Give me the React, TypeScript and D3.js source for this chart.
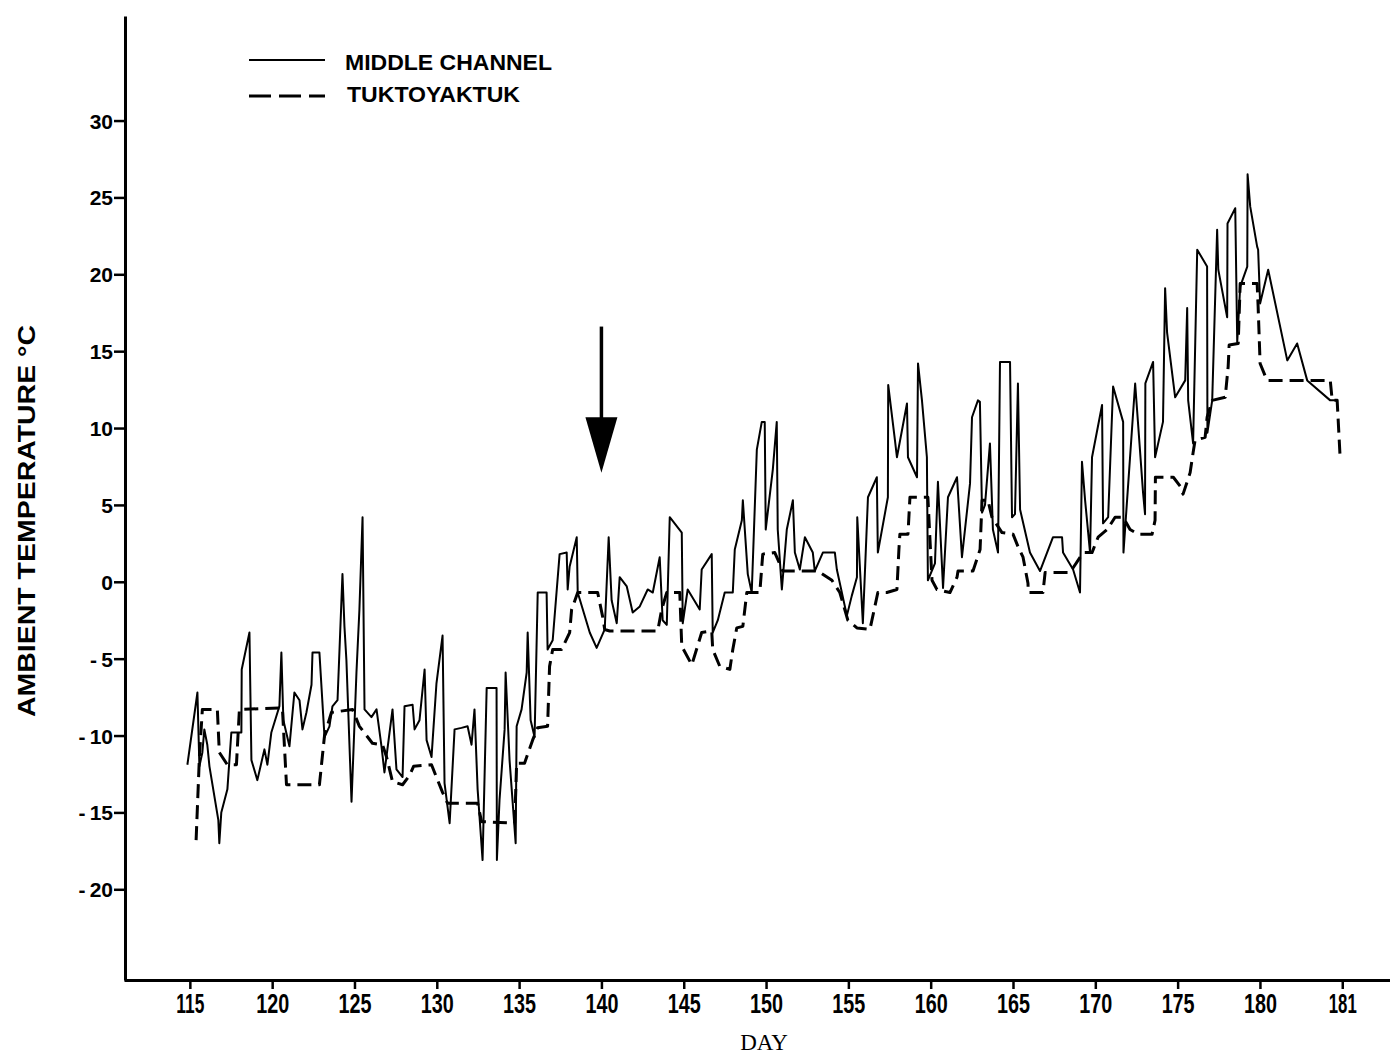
import { useEffect, useRef } from "react";
import * as d3 from "d3";

// [day, °C]
const middleChannel: [number, number][] = [
  [114.85, -11.9], [115.46, -7.2], [115.58, -12.0], [115.76, -11.1], [115.88, -9.6], [116.06, -10.6],
  [116.19, -12.0], [116.73, -15.5], [116.79, -17.0], [116.91, -15.0], [117.28, -13.5], [117.52, -9.8],
  [118.13, -9.8], [118.15, -5.7], [118.62, -3.3], [118.74, -11.6], [119.1, -12.9], [119.53, -10.9],
  [119.71, -11.9], [119.95, -9.8], [120.44, -8.1], [120.56, -4.6], [120.68, -9.0], [121.05, -10.7],
  [121.35, -7.2], [121.66, -7.7], [121.84, -9.6], [122.08, -8.5], [122.39, -6.7], [122.45, -4.6],
  [122.87, -4.6], [123.18, -10.1], [123.48, -9.4], [123.66, -8.1], [123.97, -7.7], [124.27, 0.5],
  [124.39, -2.9], [124.51, -5.1], [124.82, -14.3], [125.12, -5.9], [125.3, -1.8], [125.49, 4.2],
  [125.61, -8.3], [126.03, -8.8], [126.34, -8.3], [126.64, -10.7], [126.82, -12.4], [127.31, -8.3],
  [127.55, -12.2], [127.92, -12.7], [128.04, -8.1], [128.53, -8.0], [128.65, -9.6], [128.95, -9.0],
  [129.26, -5.7], [129.38, -10.3], [129.68, -11.4], [129.98, -6.6], [130.35, -3.5], [130.47, -13.1],
  [130.78, -15.7], [131.08, -9.6], [131.5, -9.5], [131.87, -9.4], [132.11, -10.6], [132.29, -8.3],
  [132.48, -13.5], [132.78, -18.1], [133.03, -6.9], [133.63, -6.9], [133.65, -18.1], [133.81, -14.2],
  [134.12, -9.6], [134.18, -5.9], [134.42, -11.6], [134.79, -17.0], [134.85, -9.4], [135.15, -8.3],
  [135.46, -5.9], [135.52, -3.3], [135.7, -9.0], [135.94, -10.1], [136.13, -0.7], [136.67, -0.7],
  [136.73, -4.4], [137.04, -3.8], [137.46, 1.8], [137.89, 1.9], [137.95, -0.5], [138.07, 1.0],
  [138.5, 2.9], [138.56, -0.7], [139.29, -3.3], [139.71, -4.3], [140.2, -3.1], [140.44, 2.9],
  [140.62, -1.2], [140.93, -2.7], [141.11, 0.3], [141.54, -0.3], [141.9, -2.0], [142.33, -1.6],
  [142.81, -0.5], [143.12, -0.7], [143.54, 1.6], [143.72, -2.5], [143.97, -2.8], [144.15, 4.2],
  [144.88, 3.2], [144.94, -2.7], [145.24, -0.5], [145.97, -1.8], [146.09, 0.8], [146.7, 1.8],
  [146.76, -3.3], [147.07, -2.5], [147.49, -0.7], [147.98, -0.7], [148.1, 2.1], [148.53, 4.0],
  [148.59, 5.3], [148.89, 0.5], [149.13, -0.7], [149.44, 8.6], [149.74, 10.4], [149.92, 10.4],
  [149.98, 3.4], [150.41, 7.3], [150.65, 10.4], [150.71, 3.4], [150.96, -0.5], [151.26, 3.4],
  [151.63, 5.3], [151.75, 1.9], [152.05, 0.8], [152.36, 2.9], [152.84, 1.9], [152.96, 0.7],
  [153.45, 1.9], [154.18, 1.9], [154.3, 0.8], [154.91, -2.2], [155.21, -0.9], [155.52, 0.3],
  [155.54, 4.2], [155.88, -2.7], [156.19, 5.5], [156.73, 6.8], [156.79, 1.9], [157.4, 5.5],
  [157.42, 12.8], [157.83, 9.2], [157.95, 8.1], [158.56, 11.6], [158.62, 8.1], [159.17, 6.8],
  [159.23, 14.2], [159.47, 11.8], [159.77, 8.1], [159.83, 0.1], [160.26, 1.2], [160.44, 6.5],
  [160.75, -0.4], [161.05, 5.5], [161.6, 6.8], [161.9, 1.6], [162.39, 6.4], [162.51, 10.7],
  [162.87, 11.8], [162.99, 11.7], [163.12, 4.5], [163.3, 5.0], [163.6, 9.0], [163.78, 3.4],
  [164.09, 1.9], [164.21, 14.3], [164.82, 14.3], [164.94, 4.2], [165.12, 4.4], [165.3, 12.9],
  [165.43, 4.7], [166.03, 1.9], [166.64, 0.7], [167.43, 2.9], [167.98, 2.9], [168.04, 1.9],
  [168.65, 0.8], [169.07, -0.7], [169.19, 7.8], [169.38, 5.3], [169.68, 1.9], [169.8, 8.1],
  [170.41, 11.5], [170.47, 3.8], [170.78, 4.2], [171.08, 12.7], [171.69, 10.4], [171.71, 1.9],
  [172.42, 12.9], [172.9, 5.8], [173.02, 4.4], [173.04, 12.9], [173.51, 14.3], [173.63, 8.1],
  [174.11, 10.4], [174.24, 19.1], [174.36, 16.2], [174.85, 12.0], [175.46, 13.1], [175.58, 17.8],
  [175.64, 11.8], [175.94, 9.0], [176.19, 21.6], [176.79, 20.5], [176.81, 9.7], [177.1, 11.8],
  [177.4, 22.9], [177.47, 20.3], [178.01, 17.2], [178.03, 23.3], [178.5, 24.3], [178.62, 15.6],
  [178.8, 19.2], [179.23, 20.5], [179.25, 26.5], [179.41, 24.4], [179.83, 21.8], [179.89, 21.6],
  [180.01, 18.1], [180.5, 20.3], [181.66, 14.4], [182.26, 15.5], [182.87, 13.1], [184.27, 11.8],
  [184.69, 11.8],
];

const tuktoyaktuk: [number, number][] = [
  [115.38, -16.8], [115.58, -11.4], [115.76, -8.3], [116.67, -8.3], [116.79, -11.1], [117.28, -11.9],
  [117.83, -11.9], [118.01, -8.3], [120.62, -8.2], [120.87, -13.2], [122.87, -13.2], [123.18, -10.0],
  [123.6, -8.5], [124.88, -8.3], [125.3, -9.4], [126.09, -10.5], [126.7, -10.6], [126.95, -11.4],
  [127.31, -13.0], [127.92, -13.2], [128.34, -12.6], [128.59, -12.0], [129.68, -11.9], [130.35, -13.7],
  [130.65, -14.4], [132.48, -14.4], [132.72, -15.6], [134.73, -15.7], [134.85, -11.8], [135.33, -11.8],
  [135.82, -10.3], [136.12, -9.5], [136.73, -9.4], [136.85, -5.5], [137.04, -4.4], [137.58, -4.4],
  [138.07, -3.3], [138.19, -1.8], [138.56, -0.7], [139.77, -0.7], [140.08, -2.3], [140.2, -3.1],
  [140.5, -3.2], [143.42, -3.2], [143.66, -1.8], [143.97, -0.7], [144.76, -0.7], [144.88, -4.2],
  [145.49, -5.4], [146.09, -3.3], [146.7, -3.2], [146.76, -4.4], [147.19, -5.5], [147.8, -5.7],
  [147.98, -4.4], [148.22, -3.0], [148.59, -2.9], [148.83, -0.7], [149.62, -0.7], [149.8, 1.8],
  [150.53, 1.9], [151.02, 0.7], [153.15, 0.7], [154.0, 0.1], [154.48, -0.7], [154.97, -2.5],
  [155.52, -3.0], [156.31, -3.1], [156.79, -0.7], [157.34, -0.7], [157.95, -0.5], [158.07, 2.1],
  [158.13, 3.1], [158.62, 3.1], [158.74, 5.5], [159.83, 5.5], [159.95, 2.9], [160.08, 0.1],
  [160.38, -0.5], [161.17, -0.7], [161.6, 0.3], [161.66, 0.7], [162.57, 0.7], [163.0, 2.1],
  [163.12, 5.3], [163.48, 5.3], [163.72, 4.2], [164.33, 3.2], [165.0, 3.1], [165.3, 2.3],
  [165.61, 1.6], [165.91, -0.1], [165.93, -0.7], [166.82, -0.7], [166.95, 0.6], [168.46, 0.6],
  [169.26, 1.9], [169.8, 1.9], [170.17, 2.9], [170.72, 3.4], [171.2, 4.2], [171.69, 4.2],
  [172.11, 3.4], [172.6, 3.1], [173.45, 3.1], [173.63, 4.0], [173.65, 6.8], [174.74, 6.8],
  [175.17, 6.2], [175.33, 5.7], [175.76, 7.1], [175.94, 8.4], [176.06, 9.2], [176.67, 9.4],
  [176.79, 10.7], [177.1, 11.8], [177.89, 12.0], [178.07, 14.0], [178.13, 15.4], [178.68, 15.5],
  [178.8, 19.4], [179.83, 19.4], [179.89, 17.9], [180.01, 14.2], [180.43, 13.1], [184.27, 13.1],
  [184.39, 11.8], [184.69, 11.8], [184.88, 7.9],
];

const seriesNames = ["MIDDLE CHANNEL", "TUKTOYAKTUK"];
const dayTicks = [115, 120, 125, 130, 135, 140, 145, 150, 155, 160, 165, 170, 175, 180, 185];
const dayTickLabels = ["115", "120", "125", "130", "135", "140", "145", "150", "155", "160", "165", "170", "175", "180", "181"];
const tempTicks = [-20, -15, -10, -5, 0, 5, 10, 15, 20, 25, 30];
// arrow at day 140: shaft top, head base, tip (°C)
const arrowDay = 140;
const arrowTemps = [16.6, 10.7, 7.1];

const W = 1390;
const H = 1056;

export default function App() {
  const ref = useRef<SVGSVGElement>(null);

  useEffect(() => {
    const svg = d3.select(ref.current);
    svg.selectAll("*").remove();

    const x = d3.scaleLinear().domain([111.0, 187.9]).range([124, 1390]);
    const y = d3.scaleLinear().domain([-25.9, 36.8]).range([980, 16]);
    const sans = "'Liberation Sans', Arial, sans-serif";

    // y axis
    const yAxis = svg
      .append("g")
      .attr("transform", "translate(125,0)")
      .call(
        d3
          .axisLeft(y)
          .tickValues(tempTicks)
          .tickSize(11)
          .tickSizeOuter(0)
          .tickPadding(1)
          .tickFormat((d) => {
            const v = +d;
            return v < 0 ? "-\u2009" + Math.abs(v) : String(v);
          })
      );
    yAxis.select(".domain").attr("stroke", "#000").attr("stroke-width", 3);
    yAxis.selectAll(".tick line").attr("stroke", "#000").attr("stroke-width", 2.5);
    yAxis
      .selectAll(".tick text")
      .attr("fill", "#000")
      .attr("dy", "0.36em")
      .style("font-family", sans)
      .style("font-weight", "bold")
      .style("font-size", "21px");

    // x axis
    const xAxis = svg
      .append("g")
      .attr("transform", "translate(0,980)")
      .call(
        d3
          .axisBottom(x)
          .tickValues(dayTicks)
          .tickSize(9)
          .tickSizeOuter(0)
          .tickFormat((d, i) => dayTickLabels[i])
      );
    xAxis.select(".domain").attr("stroke", "#000").attr("stroke-width", 3);
    xAxis.selectAll(".tick line").attr("stroke", "#000").attr("stroke-width", 2.5);
    xAxis
      .selectAll<SVGTextElement, number>(".tick text")
      .attr("fill", "#000")
      .attr("y", 33)
      .attr("dy", 0)
      .attr("textLength", (d, i) => {
        const s = dayTickLabels[i];
        let w = 0;
        for (const c of s) w += c === "1" ? 6 : 11;
        return w + 2.5 * (s.length - 1);
      })
      .attr("lengthAdjust", "spacingAndGlyphs")
      .style("font-family", sans)
      .style("font-weight", "bold")
      .style("font-size", "27px");

    // axis titles
    svg
      .append("text")
      .attr("x", 764)
      .attr("y", 1050)
      .attr("text-anchor", "middle")
      .style("font-family", "'Liberation Serif', 'Times New Roman', serif")
      .style("font-size", "23px")
      .text("DAY");

    svg
      .append("text")
      .attr("transform", "translate(35,521) rotate(-90)")
      .attr("text-anchor", "middle")
      .attr("textLength", 392)
      .attr("lengthAdjust", "spacingAndGlyphs")
      .style("font-family", sans)
      .style("font-weight", "bold")
      .style("font-size", "23px")
      .text("AMBIENT TEMPERATURE °C");

    const line = d3
      .line<[number, number]>()
      .x((d) => x(d[0]))
      .y((d) => y(d[1]));

    svg
      .append("path")
      .datum(tuktoyaktuk)
      .attr("d", line)
      .attr("fill", "none")
      .attr("stroke", "#000")
      .attr("stroke-width", 3)
      .attr("stroke-dasharray", "14,7")
      .attr("stroke-linejoin", "round");

    svg
      .append("path")
      .datum(middleChannel)
      .attr("d", line)
      .attr("fill", "none")
      .attr("stroke", "#000")
      .attr("stroke-width", 2)
      .attr("stroke-linejoin", "round");

    // arrow
    const ax = x(arrowDay);
    svg
      .append("line")
      .attr("x1", ax)
      .attr("x2", ax)
      .attr("y1", y(arrowTemps[0]))
      .attr("y2", y(arrowTemps[1]) + 2)
      .attr("stroke", "#000")
      .attr("stroke-width", 3.5);
    svg
      .append("path")
      .attr(
        "d",
        `M${ax - 16},${y(arrowTemps[1])} L${ax + 16},${y(arrowTemps[1])} L${ax},${y(arrowTemps[2])} Z`
      )
      .attr("fill", "#000");

    // legend
    const legend = svg.append("g");
    const rows = [
      { y: 60, dash: null as string | null, w: 2, tx: 345, ty: 70, len: 207 },
      { y: 96, dash: "22,8", w: 3, tx: 347, ty: 102, len: 173 },
    ];
    rows.forEach((r, i) => {
      legend
        .append("line")
        .attr("x1", 249)
        .attr("x2", 325)
        .attr("y1", r.y)
        .attr("y2", r.y)
        .attr("stroke", "#000")
        .attr("stroke-width", r.w)
        .attr("stroke-dasharray", r.dash);
      legend
        .append("text")
        .attr("x", r.tx)
        .attr("y", r.ty)
        .attr("textLength", r.len)
        .attr("lengthAdjust", "spacingAndGlyphs")
        .style("font-family", sans)
        .style("font-weight", "bold")
        .style("font-size", "22px")
        .text(seriesNames[i]);
    });
  }, []);

  return (
    <svg
      ref={ref}
      width={W}
      height={H}
      style={{ position: "absolute", left: 0, top: 0, background: "#fff" }}
    />
  );
}
